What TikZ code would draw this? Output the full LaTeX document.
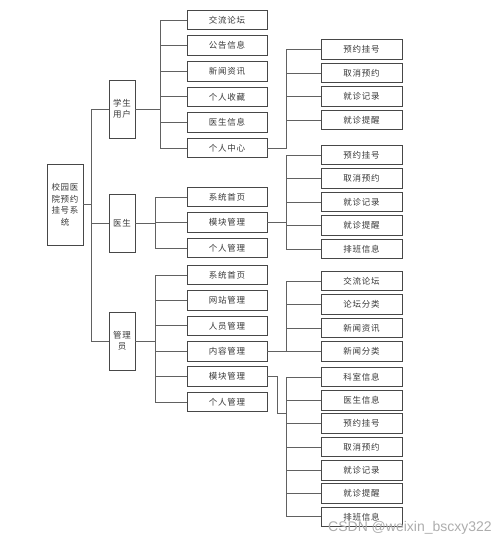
\documentclass[tikz,border=0pt]{standalone}
\usepackage{fontspec}
\newfontfamily\cjk[LetterSpace=8]{Noto Sans CJK SC}
\newfontfamily\wmfont{Liberation Sans}
\usetikzlibrary{positioning}

\begin{document}
\begin{tikzpicture}[x=1pt,y=-1pt,on grid,
  font=\cjk\fontsize{8.5}{11.5}\selectfont,
  box/.style={draw=black!72,line width=0.75pt,text=black!78,inner sep=0pt,align=center},
  item/.style={box,minimum width=80pt,minimum height=19.5pt},
  sub/.style={box,minimum width=81pt,minimum height=19.5pt},
  role/.style={box,minimum width=26pt,minimum height=58pt},
  elbow/.style={to path={-- ++(#1,0) |- (\tikztotarget)}},
  link/.style={draw=black!62,line width=0.7pt}]
\useasboundingbox (0,0) rectangle (500,543);

% root and roles
\node[box,minimum width=36pt,minimum height=81pt]	(sys)	at (65,204.5)	{校园医\\院预约\\挂号系\\统};
\node[role]		(stu)	at (122,109)	{学生\\用户};
\node[role]		(doc)	at (122,223)	{医生};
\node[role]		(adm)	at (122,341)	{管理\\员};

% student
\begin{scope}[node distance=25.6pt]
\node[item]		(s1)	at (227,20)		{交流论坛};
\node[item]		(s2)	[below=of s1]	{公告信息};
\node[item]		(s3)	[below=of s2]	{新闻资讯};
\node[item]		(s4)	[below=of s3]	{个人收藏};
\node[item]		(s5)	[below=of s4]	{医生信息};
\node[item]		(s6)	[below=of s5]	{个人中心};
\end{scope}

% doctor
\begin{scope}[node distance=25.5pt]
\node[item]		(d1)	at (227,197)	{系统首页};
\node[item]		(d2)	[below=of d1]	{模块管理};
\node[item]		(d3)	[below=of d2]	{个人管理};
\end{scope}

% admin
\begin{scope}[node distance=25.4pt]
\node[item]		(a1)	at (227,275)	{系统首页};
\node[item]		(a2)	[below=of a1]	{网站管理};
\node[item]		(a3)	[below=of a2]	{人员管理};
\node[item]		(a4)	[below=of a3]	{内容管理};
\node[item]		(a5)	[below=of a4]	{模块管理};
\node[item]		(a6)	[below=of a5]	{个人管理};
\end{scope}

% third level
\begin{scope}[node distance=23.5pt]
\node[sub]		(p1)	at (361.5,49.5)	{预约挂号};
\node[sub]		(p2)	[below=of p1]	{取消预约};
\node[sub]		(p3)	[below=of p2]	{就诊记录};
\node[sub]		(p4)	[below=of p3]	{就诊提醒};

\node[sub]		(q1)	at (361.5,155)	{预约挂号};
\node[sub]		(q2)	[below=of q1]	{取消预约};
\node[sub]		(q3)	[below=of q2]	{就诊记录};
\node[sub]		(q4)	[below=of q3]	{就诊提醒};
\node[sub]		(q5)	[below=of q4]	{排班信息};

\node[sub]		(n1)	at (361.5,281)	{交流论坛};
\node[sub]		(n2)	[below=of n1]	{论坛分类};
\node[sub]		(n3)	[below=of n2]	{新闻资讯};
\node[sub]		(n4)	[below=of n3]	{新闻分类};
\end{scope}

\begin{scope}[node distance=23.3pt]
\node[sub]		(k1)	at (361.5,377)	{科室信息};
\node[sub]		(k2)	[below=of k1]	{医生信息};
\node[sub]		(k3)	[below=of k2]	{预约挂号};
\node[sub]		(k4)	[below=of k3]	{取消预约};
\node[sub]		(k5)	[below=of k4]	{就诊记录};
\node[sub]		(k6)	[below=of k5]	{就诊提醒};
\node[sub]		(k7)	[below=of k6]	{排班信息};
\end{scope}

\coordinate	(kj)	at (286,413);

\path[link]
(sys.east)	edge[elbow=8]	(stu.west)
			edge[elbow=8]	(doc.west)
			edge[elbow=8]	(adm.west)

(stu.east)	edge[elbow=25]	(s1.west)	edge[elbow=25]	(s2.west)
			edge[elbow=25]	(s3.west)	edge[elbow=25]	(s4.west)
			edge[elbow=25]	(s5.west)	edge[elbow=25]	(s6.west)

(doc.east)	edge[elbow=20]	(d1.west)	edge[elbow=20]	(d2.west)
			edge[elbow=20]	(d3.west)

(adm.east)	edge[elbow=20]	(a1.west)	edge[elbow=20]	(a2.west)
			edge[elbow=20]	(a3.west)	edge[elbow=20]	(a4.west)
			edge[elbow=20]	(a5.west)	edge[elbow=20]	(a6.west)

(s6.east)	edge[elbow=19]	(p1.west)	edge[elbow=19]	(p2.west)
			edge[elbow=19]	(p3.west)	edge[elbow=19]	(p4.west)

(d2.east)	edge[elbow=19]	(q1.west)	edge[elbow=19]	(q2.west)
			edge[elbow=19]	(q3.west)	edge[elbow=19]	(q4.west)
			edge[elbow=19]	(q5.west)

(a4.east)	edge[elbow=19]	(n1.west)	edge[elbow=19]	(n2.west)
			edge[elbow=19]	(n3.west)	edge[elbow=19]	(n4.west)

(a5.east)	edge[elbow=10]	(kj)
(kj)		edge[elbow=0]	(k1.west)	edge[elbow=0]	(k2.west)
			edge[elbow=0]	(k3.west)	edge[elbow=0]	(k4.west)
			edge[elbow=0]	(k5.west)	edge[elbow=0]	(k6.west)
			edge[elbow=0]	(k7.west)
;

% watermark
\node[text=black!32,font=\wmfont\fontsize{14}{16}\selectfont]	(wm)	at (410,528)	{CSDN @weixin\_bscxy322};
\end{tikzpicture}
\end{document}
